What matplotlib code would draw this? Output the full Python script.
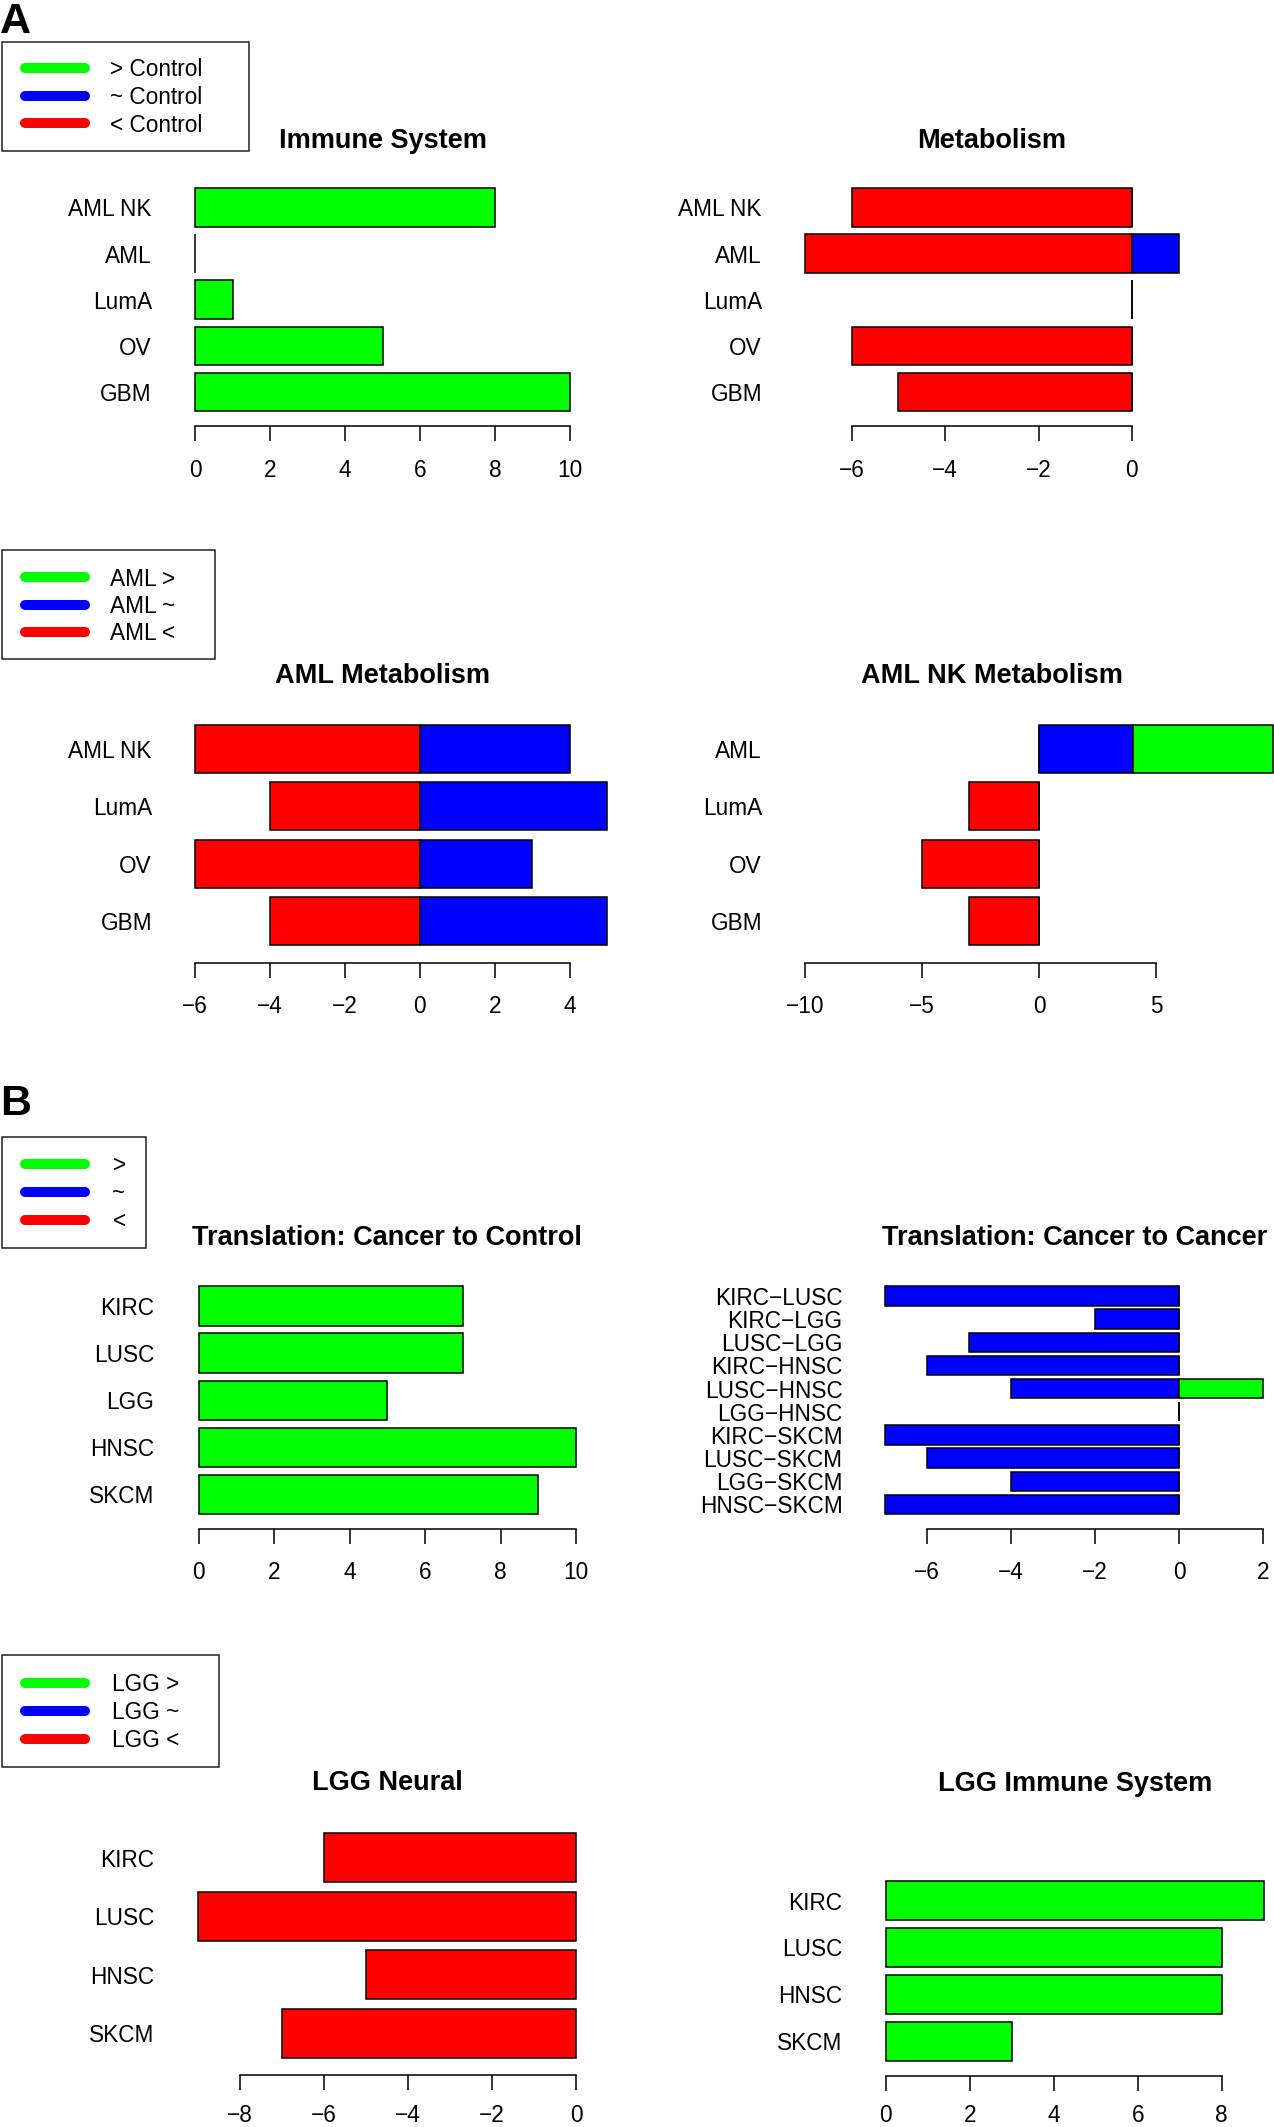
import numpy as np
import matplotlib
matplotlib.use('Agg')
import matplotlib.pyplot as plt
from matplotlib.patches import Rectangle
from matplotlib.lines import Line2D

plt.rcParams['font.family'] = ['Liberation Sans', 'DejaVu Sans']
plt.rcParams['axes.unicode_minus'] = True

GREEN, BLUE, RED = '#00FF00', '#0000FF', '#FF0000'

# ---------------- data ----------------
immune_cats = ['AML NK', 'AML', 'LumA', 'OV', 'GBM']
immune_greater = [8, 0, 1, 5, 10]

metab_cats = ['AML NK', 'AML', 'LumA', 'OV', 'GBM']
metab_less = [-6, -7, 0, -6, -5]
metab_similar = [0, 1, 0, 0, 0]

aml_metab_cats = ['AML NK', 'LumA', 'OV', 'GBM']
aml_metab_less = [-6, -4, -6, -4]
aml_metab_similar = [4, 5, 3, 5]

amlnk_metab_cats = ['AML', 'LumA', 'OV', 'GBM']
amlnk_metab_less = [0, -3, -5, -3]
amlnk_metab_similar = [4, 0, 0, 0]
amlnk_metab_greater = [6, 0, 0, 0]

trans_ctrl_cats = ['KIRC', 'LUSC', 'LGG', 'HNSC', 'SKCM']
trans_ctrl_greater = [7, 7, 5, 10, 9]

trans_cc_cats = ['KIRC\u2212LUSC', 'KIRC\u2212LGG', 'LUSC\u2212LGG', 'KIRC\u2212HNSC',
                 'LUSC\u2212HNSC', 'LGG\u2212HNSC', 'KIRC\u2212SKCM', 'LUSC\u2212SKCM',
                 'LGG\u2212SKCM', 'HNSC\u2212SKCM']
trans_cc_similar = [-7, -2, -5, -6, -4, 0, -7, -6, -4, -7]
trans_cc_greater = [0, 0, 0, 0, 2, 0, 0, 0, 0, 0]

lgg_neural_cats = ['KIRC', 'LUSC', 'HNSC', 'SKCM']
lgg_neural_less = [-6, -9, -5, -7]

lgg_immune_cats = ['KIRC', 'LUSC', 'HNSC', 'SKCM']
lgg_immune_greater = [9, 8, 8, 3]

ticks_immune = [0, 2, 4, 6, 8, 10]
ticks_metab = [-6, -4, -2, 0]
ticks_aml_metab = [-6, -4, -2, 0, 2, 4]
ticks_amlnk_metab = [-10, -5, 0, 5]
ticks_trans_ctrl = [0, 2, 4, 6, 8, 10]
ticks_trans_cc = [-6, -4, -2, 0, 2]
ticks_lgg_neural = [-8, -6, -4, -2, 0]
ticks_lgg_immune = [0, 2, 4, 6, 8]

legend_A1 = ['> Control', '~ Control', '< Control']
legend_A2 = ['AML >', 'AML ~', 'AML <']
legend_B1 = ['>', '~', '<']
legend_B2 = ['LGG >', 'LGG ~', 'LGG <']

# ---------------- figure ----------------
W, H = 1274, 2127
fig = plt.figure(figsize=(W / 100, H / 100), dpi=100)
PT = 0.72  # points per pixel at dpi 100
FS = 16.3
FS_TITLE = 19.5
TICK_LEN = 14.5


def fx(x):
    return x / W


def fy(y):
    return 1 - y / H


def panel(title, cats, series, xlim, ticks, zero_px, unit_px, top_px, bot_px,
          axis_px, label_right_px, title_y_px, label_off=40.5):
    n = len(cats)
    left_px = zero_px + xlim[0] * unit_px
    right_px = zero_px + xlim[1] * unit_px
    ax = fig.add_axes([fx(left_px), fy(bot_px), (right_px - left_px) / W,
                       (bot_px - top_px) / H])
    ax.set_xlim(xlim)
    ax.set_ylim(0.2, 1.2 * n)
    ypos = 0.2 + 1.2 * np.arange(n)[::-1] + 0.5
    for vals, lefts, color in series:
        ax.barh(ypos, vals, height=1.0, left=lefts, color=color,
                edgecolor='black', linewidth=1.1, clip_on=False, zorder=3)
    for s in ['top', 'right', 'left']:
        ax.spines[s].set_visible(False)
    ax.spines['bottom'].set_position(('outward', (axis_px - bot_px) * PT))
    ax.spines['bottom'].set_bounds(ticks[0], ticks[-1])
    ax.spines['bottom'].set_linewidth(1.1)
    ax.set_xticks(ticks)
    ax.tick_params(axis='x', length=TICK_LEN * PT, width=1.1, labelsize=FS,
                   pad=(label_off - 8.2 - TICK_LEN) * PT, direction='out')
    ax.set_yticks(ypos)
    ax.set_yticklabels(cats)
    ax.tick_params(axis='y', length=0, labelsize=FS,
                   pad=(left_px - label_right_px) * PT)
    ax.patch.set_visible(False)
    fig.text(fx((left_px + right_px) / 2), fy(title_y_px + 9.7), title,
             ha='center', va='baseline', fontsize=FS_TITLE, fontweight='bold')
    return ax


def legend(labels, x0, x1, y0, y1, line_ys, text_x):
    fig.add_artist(Rectangle((fx(x0), fy(y1)), (x1 - x0) / W, (y1 - y0) / H,
                             transform=fig.transFigure, fill=False,
                             edgecolor='#222222', linewidth=1.1))
    for lab, col, ly in zip(labels, [GREEN, BLUE, RED], line_ys):
        fig.add_artist(Line2D([fx(24.5), fx(85.0)], [fy(ly), fy(ly)],
                              transform=fig.transFigure, color=col,
                              linewidth=10 * PT, solid_capstyle='round'))
        fig.text(fx(text_x), fy(ly + 8.2), lab, ha='left', va='baseline',
                 fontsize=FS)


def pos(v):
    return np.maximum(np.array(v, dtype=float), 0)


# ---- Panel A ----
fig.text(fx(0), fy(32.7), 'A', fontsize=31, fontweight='bold', ha='left', va='baseline')
legend(legend_A1, 1.6, 249.3, 41.7, 151, [68.3, 95.7, 123.3], 110.3)

panel('Immune System', immune_cats,
      [(immune_greater, 0, GREEN)],
      (-0.4, 10.4), ticks_immune, 195.3, 37.44, 188.3, 411, 426.3, 152, 138.3)

panel('Metabolism', metab_cats,
      [(metab_less, 0, RED), (metab_similar, 0, BLUE)],
      (-7.32, 1.32), ticks_metab, 1131.9, 46.7, 188.3, 411, 426.3, 762, 138.0)

legend(legend_A2, 1.6, 215, 550, 659.3, [577.3, 605, 632.3], 110.3)

panel('AML Metabolism', aml_metab_cats,
      [(aml_metab_less, 0, RED), (aml_metab_similar, 0, BLUE)],
      (-6.4, 4.4), ticks_aml_metab, 419.9, 37.44, 725, 945, 963, 152, 673.3)

panel('AML NK Metabolism', amlnk_metab_cats,
      [(amlnk_metab_less, 0, RED), (amlnk_metab_similar, 0, BLUE),
       (amlnk_metab_greater, pos(amlnk_metab_similar), GREEN)],
      (-10.64, 6.64), ticks_amlnk_metab, 1039.2, 23.4, 725, 945, 963, 762, 673.3)

# ---- Panel B ----
fig.text(fx(0), fy(1115), 'B', fontsize=31, fontweight='bold', ha='left', va='baseline')
legend(legend_B1, 1.6, 145.9, 1136.7, 1248.3, [1164, 1192, 1220], 112.4)

panel('Translation: Cancer to Control', trans_ctrl_cats,
      [(trans_ctrl_greater, 0, GREEN)],
      (-0.4, 10.4), ticks_trans_ctrl, 198.6, 37.76, 1286.3, 1514, 1528.8, 154.5, 1235)

panel('Translation: Cancer to Cancer', trans_cc_cats,
      [(trans_cc_similar, 0, BLUE), (trans_cc_greater, pos(trans_cc_similar), GREEN)],
      (-7.36, 2.36), ticks_trans_cc, 1179.3, 42.05, 1286.3, 1514, 1528.8, 842.4, 1235)

legend(legend_B2, 1.6, 219, 1655, 1766.7, [1682.7, 1710.7, 1739], 112.4)

panel('LGG Neural', lgg_neural_cats,
      [(lgg_neural_less, 0, RED)],
      (-9.36, 0.36), ticks_lgg_neural, 576.2, 42.04, 1833.3, 2057.7, 2075, 154.5, 1780,
      label_off=37.5)

panel('LGG Immune System', lgg_immune_cats,
      [(lgg_immune_greater, 0, GREEN)],
      (-0.36, 9.36), ticks_lgg_immune, 885.7, 42.01, 1881, 2060.7, 2076, 842.4, 1781,
      label_off=36.5)

fig.savefig('out.png', dpi=100)
